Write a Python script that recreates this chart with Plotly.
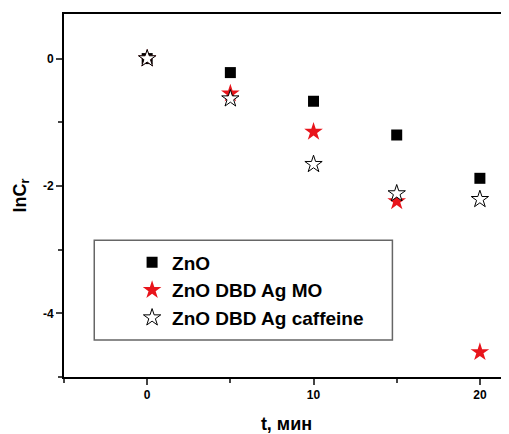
import plotly.graph_objects as go

t = [0, 5, 10, 15, 20]
zno = [0, -0.22, -0.67, -1.20, -1.88]
zno_mo = [0, -0.55, -1.15, -2.24, -4.61]
zno_caf = [0, -0.63, -1.66, -2.12, -2.21]

names = ["ZnO", "ZnO DBD Ag MO", "ZnO DBD Ag caffeine"]
x_ticks = [0, 10, 20]
y_ticks = [0, -2, -4]
y_tick_labels = ["0", "-2", "-4"]

fig = go.Figure()
fig.add_trace(go.Scatter(x=t, y=zno, mode="markers", name=names[0],
                         marker=dict(symbol="square", size=11, color="black")))
fig.add_trace(go.Scatter(x=t, y=zno_mo, mode="markers", name=names[1],
                         marker=dict(symbol="star", size=14, color="#e8141b")))
fig.add_trace(go.Scatter(x=t, y=zno_caf, mode="markers", name=names[2],
                         marker=dict(symbol="star", size=13, color="white",
                                     line=dict(color="black", width=1))))

font = "Liberation Sans, Arial, sans-serif"
fig.update_layout(
    width=501, height=426,
    margin=dict(l=56, r=0, t=6, b=57),
    paper_bgcolor="white", plot_bgcolor="white",
    font=dict(family=font, color="black"),
    showlegend=True,
    legend=dict(x=0.153, y=0.368, xanchor="left", yanchor="top",
                bgcolor="rgba(0,0,0,0)", borderwidth=0,
                font=dict(size=19, family=font, color="black", weight="bold"),
                tracegroupgap=0),
    xaxis=dict(range=[-5, 21.75], tickvals=x_ticks, ticks="outside", ticklen=6,
               tickwidth=2, showline=True, linecolor="black", linewidth=2,
               mirror=True, showgrid=False, zeroline=False, automargin=False,
               tickfont=dict(size=12, weight="bold"),
               minor=dict(dtick=5, tick0=0, ticks="outside", ticklen=4, tickwidth=2),
               title=dict(text="t, мин", font=dict(size=18, weight="bold"), standoff=16)),
    yaxis=dict(range=[-5, 0.7], tickvals=y_ticks, ticktext=y_tick_labels,
               ticks="outside", ticklen=6,
               tickwidth=2, showline=True, linecolor="black", linewidth=2,
               mirror=False, showgrid=False, zeroline=False, automargin=False,
               tickfont=dict(size=12, weight="bold"),
               minor=dict(dtick=1, tick0=0, ticks="outside", ticklen=4, tickwidth=2),
               title=dict(text="lnC<sub>r</sub>", font=dict(size=18, weight="bold"), standoff=12)),
)
fig.add_shape(type="rect", xref="paper", yref="paper",
              x0=0.068, x1=0.738, y0=0.102, y1=0.377,
              line=dict(color="#666666", width=1.5), fillcolor="rgba(0,0,0,0)")

fig.write_html("out.html")
